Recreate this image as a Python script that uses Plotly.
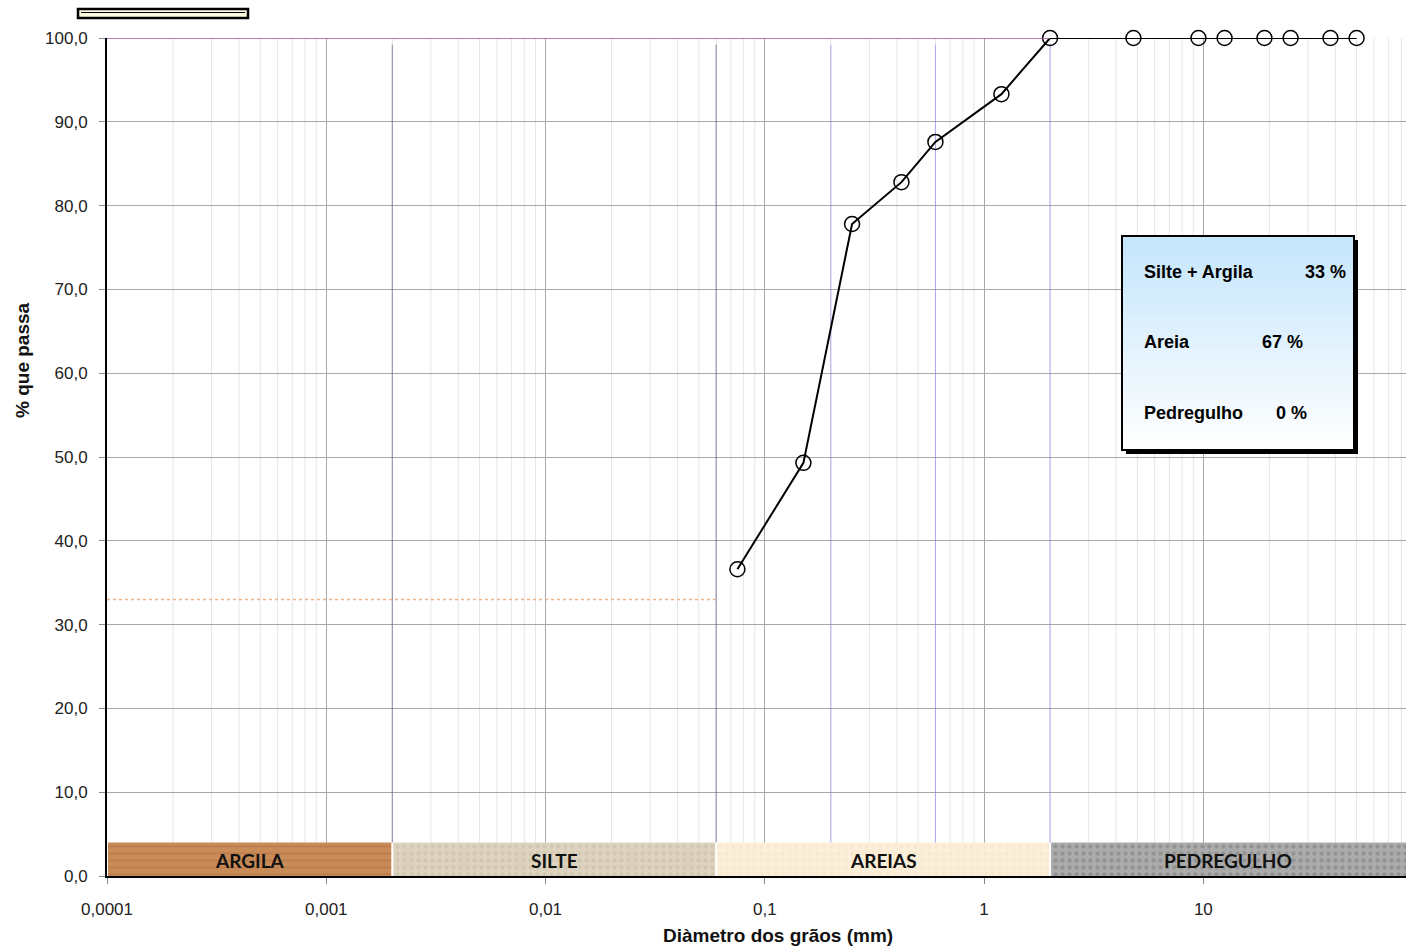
import plotly.graph_objects as go
import numpy as np

# ---------------- data ----------------
diam_mm = [0.075, 0.15, 0.25, 0.42, 0.6, 1.2, 2.0, 4.8, 9.5, 12.5, 19, 25, 38, 50]
pct_passing = [36.6, 49.3, 77.8, 82.8, 87.6, 93.3, 100, 100, 100, 100, 100, 100, 100, 100]

band_names = ["ARGILA", "SILTE", "AREIAS", "PEDREGULHO"]
band_limits = [0.0001, 0.002, 0.06, 2.0, 84.0]
band_colors = ["#c98b58", "#ddd3bf", "#fcefd9", "#ababab"]
band_pattern_colors = ["#b07242", "#c8bda6", "#f4e4c8", "#7c7c7c"]
band_pattern_shapes = ["-", ".", ".", "."]
band_top = 4.0

dark_lines = [0.002, 0.06]
blue_lines = [0.2, 0.6, 2.0]

summary_labels = ["Silte + Argila", "Areia", "Pedregulho"]
summary_values = ["33 %", "67 %", "0 %"]
fines_pct = 33

y_ticks = [0, 10, 20, 30, 40, 50, 60, 70, 80, 90, 100]
y_ticktext = ["0,0", "10,0", "20,0", "30,0", "40,0", "50,0", "60,0", "70,0", "80,0", "90,0", "100,0"]
x_ticks = [0.0001, 0.001, 0.01, 0.1, 1, 10]
x_ticktext = ["0,0001", "0,001", "0,01", "0,1", "1", "10"]

# ---------------- layout geometry ----------------
W, H = 1406, 946
L, R, T, B = 107, 0, 38, 70
PW, PH = W - L - R, H - T - B
FONT = "Liberation Sans, Arial, sans-serif"


def px(xpix):
    return (xpix - L) / PW


def py(ypix):
    return (H - B - ypix) / PH


fig = go.Figure()
shapes = []
annotations = []

# minor log grid (2..9 in each decade)
for d in range(-4, 2):
    for k in range(2, 10):
        v = k * 10.0 ** d
        if v < band_limits[-1]:
            shapes.append(dict(type="line", xref="x", yref="y", x0=v, x1=v, y0=0, y1=100,
                               line=dict(color="#e6e6e6", width=1), layer="below"))

# bands (textured fills)
for i, name in enumerate(band_names):
    x0, x1 = band_limits[i], band_limits[i + 1]
    fig.add_trace(go.Scatter(x=[x0, x1, x1, x0, x0], y=[0, 0, band_top, band_top, 0],
                             mode="lines", fill="toself", line=dict(width=0, color=band_colors[i]),
                             fillcolor=band_colors[i],
                             fillpattern=dict(shape=band_pattern_shapes[i], fgcolor=band_pattern_colors[i],
                                              bgcolor=band_colors[i], size=7, solidity=0.3),
                             hoverinfo="skip", showlegend=False))
    annotations.append(dict(x=(np.log10(x0) + np.log10(x1)) / 2, y=band_top / 2 - 0.15,
                            xref="x", yref="y", text="<b>%s</b>" % name, showarrow=False,
                            font=dict(family="Lato, Open Sans, sans-serif", size=19, color="#111")))
    shapes.append(dict(type="line", xref="x", yref="y", x0=x0, x1=x0, y0=0, y1=band_top,
                       line=dict(color="white", width=2), layer="above"))

# vertical reference lines
for v in dark_lines:
    shapes.append(dict(type="line", xref="x", yref="y", x0=v, x1=v, y0=band_top, y1=99.2,
                       line=dict(color="rgba(85,85,130,0.7)", width=1), layer="between"))
for v in blue_lines:
    shapes.append(dict(type="line", xref="x", yref="y", x0=v, x1=v, y0=band_top, y1=99.2,
                       line=dict(color="rgba(120,120,240,0.55)", width=1), layer="between"))

# 100% purple line
shapes.append(dict(type="line", xref="x", yref="y", x0=0.0001, x1=2.0, y0=100, y1=100,
                   line=dict(color="#a050a0", width=1.5), layer="above"))
# fines orange dotted line
shapes.append(dict(type="line", xref="x", yref="y", x0=0.0001, x1=0.06, y0=fines_pct, y1=fines_pct,
                   line=dict(color="#f5b183", width=1.5, dash="dot"), layer="above"))

# summary box (shadow + gradient stripes + border)
bx0, bx1, by0, by1 = 1122, 1354, 236, 450
shapes.append(dict(type="rect", xref="paper", yref="paper", x0=px(bx0 + 4), x1=px(bx1 + 4),
                   y0=py(by1 + 4), y1=py(by0 + 4), fillcolor="black", line=dict(width=0), layer="above"))
nstripes = 40
c_top = np.array([197, 230, 252])
c_bot = np.array([255, 255, 255])
for k in range(nstripes):
    t = k / (nstripes - 1)
    c = c_top + (c_bot - c_top) * t
    ya = by0 + (by1 - by0) * k / nstripes
    yb = min(by1, by0 + (by1 - by0) * (k + 1) / nstripes + 1.5)
    shapes.append(dict(type="rect", xref="paper", yref="paper", x0=px(bx0), x1=px(bx1),
                       y0=py(yb), y1=py(ya), fillcolor="rgb(%d,%d,%d)" % tuple(c.astype(int)),
                       line=dict(width=0), layer="above"))
shapes.append(dict(type="rect", xref="paper", yref="paper", x0=px(bx0), x1=px(bx1),
                   y0=py(by1), y1=py(by0), fillcolor="rgba(0,0,0,0)",
                   line=dict(color="black", width=2), layer="above"))

label_y = [272, 342, 413]
value_right = [1348, 1305, 1309]
for lab, val, yy, vr in zip(summary_labels, summary_values, label_y, value_right):
    annotations.append(dict(x=px(1142), y=py(yy), xref="paper", yref="paper", text="<b>%s</b>" % lab,
                            showarrow=False, xanchor="left", yanchor="middle",
                            font=dict(family=FONT, size=18, color="black")))
    annotations.append(dict(x=px(vr), y=py(yy), xref="paper", yref="paper", text="<b>%s</b>" % val,
                            showarrow=False, xanchor="right", yanchor="middle",
                            font=dict(family=FONT, size=18, color="black")))

# small empty box top-left (legend remnant)
shapes.append(dict(type="rect", xref="paper", yref="paper", x0=px(78), x1=px(248), y0=py(18), y1=py(9),
                   fillcolor="#fdfde0", line=dict(color="black", width=2.5), layer="above"))
shapes.append(dict(type="line", xref="paper", yref="paper", x0=px(81), x1=px(245), y0=py(12.5), y1=py(12.5),
                   line=dict(color="black", width=1), layer="above"))

# axis titles as annotations
annotations.append(dict(x=px(778), y=py(935), xref="paper", yref="paper",
                        xanchor="center", yanchor="middle",
                        text="<b>Diàmetro dos grãos (mm)</b>", showarrow=False,
                        font=dict(family=FONT, size=19, color="#111")))
annotations.append(dict(x=px(22), y=py(360), xref="paper", yref="paper",
                        xanchor="center", yanchor="middle",
                        text="<b>% que passa</b>", showarrow=False, textangle=-90,
                        font=dict(family=FONT, size=19, color="#111")))

# data trace
fig.add_trace(go.Scatter(x=diam_mm, y=pct_passing, mode="lines+markers",
                         line=dict(color="black", width=2),
                         marker=dict(symbol="circle-open", size=15, color="black", line=dict(width=1.5)),
                         cliponaxis=False, showlegend=False))

fig.update_layout(
    width=W, height=H, autosize=False,
    margin=dict(l=L, r=R, t=T, b=B, pad=0),
    paper_bgcolor="white", plot_bgcolor="white",
    shapes=shapes, annotations=annotations,
    font=dict(family=FONT, size=17, color="#222"),
    xaxis=dict(type="log", range=[-4, np.log10(band_limits[-1])],
               tickvals=x_ticks, ticktext=x_ticktext,
               showgrid=True, gridcolor="#a8a8a8", gridwidth=1,
               ticks="outside", ticklen=6, tickcolor="#888", ticklabelstandoff=11,
               showline=True, linecolor="black", linewidth=2,
               zeroline=False, tickfont=dict(size=17)),
    yaxis=dict(range=[0, 100], tickvals=y_ticks, ticktext=y_ticktext,
               showgrid=True, gridcolor="#a8a8a8", gridwidth=1,
               ticks="outside", ticklen=6, tickcolor="#888", ticklabelstandoff=8,
               showline=True, linecolor="black", linewidth=2,
               zeroline=False, tickfont=dict(size=17)),
)

fig.write_html("out.html", config={"displayModeBar": False},
               post_script="document.body.style.margin='0';document.body.style.overflow='hidden';")
